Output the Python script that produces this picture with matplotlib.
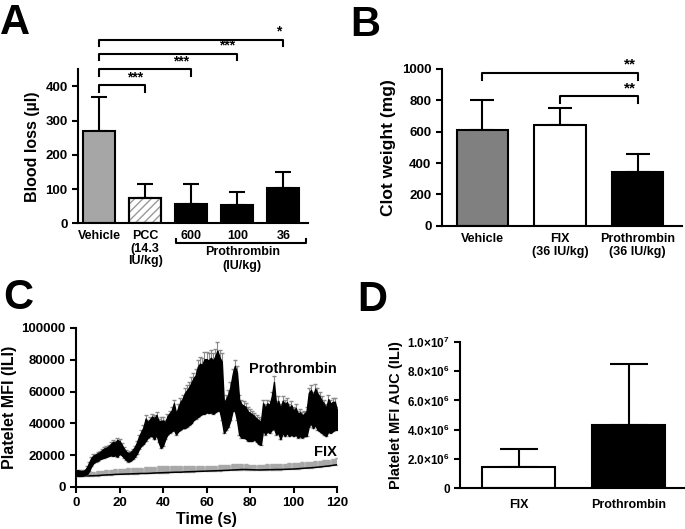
import numpy as np
import matplotlib
matplotlib.use("Agg")
import matplotlib.pyplot as plt

plt.rcParams['font.family'] = ['Liberation Sans', 'DejaVu Sans']
plt.rcParams['font.weight'] = 'bold'
plt.rcParams['axes.labelweight'] = 'bold'
plt.rcParams['mathtext.fontset'] = 'custom'
plt.rcParams['mathtext.rm'] = 'Liberation Sans:bold'
plt.rcParams['mathtext.it'] = 'Liberation Sans:bold'
plt.rcParams['mathtext.bf'] = 'Liberation Sans:bold'

# ---- panel A: blood loss
a_labels = ['Vehicle', 'PCC\n(14.3\nIU/kg)', '600', '100', '36']
a_mean = [271, 73, 57, 53, 103]
a_err = [97, 41, 57, 38, 46]
a_stars = ['***', '***', '***', '*']   # vehicle vs PCC, 600, 100, 36

# ---- panel B: clot weight
b_labels = ['Vehicle', 'FIX\n(36 IU/kg)', 'Prothrombin\n(36 IU/kg)']
b_mean = [611, 643, 344]
b_err = [191, 109, 114]

# ---- panel C: platelet MFI time course
pro_time = list(range(0, 121))
pro_hi = [11000, 11000, 10500, 10500, 11000, 13000, 16000, 19000, 20500, 21000,
          22000, 22500, 24000, 25000, 25500, 26500, 28000, 29500, 29000, 31000,
          30000, 27500, 25000, 23000, 22000, 22500, 24000, 26000, 29000, 33000,
          36000, 39000, 45000, 42000, 44000, 46000, 45000, 47000, 43000, 44000,
          44000, 42000, 46000, 48000, 50000, 55000, 48000, 52000, 56000, 58000,
          62000, 64000, 66000, 69000, 72000, 74000, 80000, 82000, 81000, 85000,
          85000, 84000, 86000, 84000, 87000, 91000, 86000, 84000, 55000, 58000,
          61000, 66000, 74000, 80000, 76000, 58000, 55000, 54000, 53000, 50000,
          49000, 48000, 46500, 45000, 44000, 43000, 55000, 52000, 55000, 54000,
          60000, 70000, 54000, 57000, 52000, 57000, 55000, 56000, 52000, 54000,
          50000, 52000, 48000, 49000, 47000, 48000, 50000, 62000, 64000, 60000,
          65000, 62000, 60000, 57000, 55000, 52000, 58000, 55000, 56000, 56000,
          50000]
pro_lo = [7000, 7000, 7000, 7000, 7500, 8000, 10000, 13000, 15000, 16000,
          16500, 17500, 18000, 18500, 19000, 19500, 20000, 19500, 20000, 19000,
          21000, 20000, 18500, 17000, 16000, 16500, 17500, 19000, 21000, 24000,
          26000, 27000, 29000, 31000, 32000, 32000, 30000, 33000, 28000, 24500,
          26000, 30000, 33000, 34000, 35000, 36000, 33000, 35000, 36000, 37000,
          37000, 38000, 39000, 40000, 42000, 43000, 44000, 45000, 46000, 46000,
          47000, 46500, 47000, 46000, 47000, 48000, 48000, 42000, 34000, 36000,
          38000, 42000, 48000, 48000, 42000, 33000, 31000, 31000, 30500, 29000,
          29000, 29000, 30000, 28500, 27000, 26500, 36000, 33000, 35000, 34000,
          36000, 37000, 33000, 34000, 30000, 34000, 32000, 34000, 32000, 33000,
          32000, 33000, 31000, 32000, 31000, 32000, 32000, 38000, 40000, 37000,
          39000, 36000, 35000, 34000, 33000, 32000, 35000, 34000, 35000, 36000,
          36000]

fix_time = list(range(0, 121, 2))
fix_mean = [7500, 7200, 7000, 7000, 7100, 7200, 7400, 7600, 7700, 7900, 8000,
            8100, 8200, 8300, 8400, 8500, 8500, 8600, 8800, 8900, 9000,
            9100, 9200, 9300, 9300, 9500, 9600, 9700, 9800, 9900, 10000,
            10100, 10200, 10300, 10400, 10500, 10700, 10800, 11000, 11000, 10900,
            10800, 10700, 10800, 10900, 10900, 11000, 11000, 11100, 11200, 11300,
            11500, 11700, 11900, 12100, 12300, 12600, 12900, 13200, 13600, 14000]
fix_err = [1500, 1800, 2000, 2200, 2400, 2600, 2800, 3000, 3100, 3200, 3400,
           3400, 3500, 3500, 3600, 3700, 3800, 3800, 3900, 4000, 4000,
           3900, 3800, 3800, 3700, 3600, 3600, 3500, 3500, 3400, 3400,
           3300, 3300, 3400, 3400, 3500, 3500, 3400, 3300, 3200, 3200,
           3200, 3300, 3300, 3400, 3400, 3500, 3500, 3600, 3600, 3700,
           3700, 3800, 3800, 3900, 3900, 4000, 4000, 4000, 4100, 4200]

# ---- panel D: AUC
d_labels = ['FIX', 'Prothrombin']
d_mean = [1.46e6, 4.32e6]
d_err = [1.19e6, 4.15e6]

LW = 1.5
TICK = 9.5
fig = plt.figure(figsize=(6.85, 5.29), dpi=100)


def style(ax):
    for s in ['top', 'right']:
        ax.spines[s].set_visible(False)
    for s in ['left', 'bottom']:
        ax.spines[s].set_linewidth(LW)
    ax.tick_params(width=LW, length=4, labelsize=TICK)


# ================= A
axA = fig.add_axes([0.114, 0.578, 0.336, 0.291])
style(axA)
xa = np.arange(len(a_mean))
a_colors = ['#a6a6a6', 'white', 'black', 'black', 'black']
axA.bar(xa, a_mean, width=0.7, color=a_colors, edgecolor='black', linewidth=LW, zorder=2)
# gray hatching of the PCC bar
axA.bar(xa[1], a_mean[1], width=0.7, color='none', edgecolor='#9a9a9a', hatch='////',
        linewidth=0, zorder=3)
axA.bar(xa[1], a_mean[1], width=0.7, color='none', edgecolor='black', linewidth=LW, zorder=4)
axA.errorbar(xa, a_mean, yerr=[np.zeros(len(a_err)), a_err], fmt='none', ecolor='black',
             elinewidth=LW, capsize=5.8, capthick=LW, zorder=1)
axA.set_xlim(-0.457, 4.54)
axA.set_ylim(0, 450)
axA.set_yticks([0, 100, 200, 300, 400])
axA.set_xticks(xa)
axA.set_xticklabels(a_labels, linespacing=1.05, fontsize=9)
axA.tick_params(axis='x', length=0, pad=5)
axA.set_ylabel('Blood loss (\u00b5l)', fontsize=11.5, labelpad=4)

br_y = [403, 450, 496, 537]
for i, (y, st) in enumerate(zip(br_y, a_stars)):
    x2 = xa[i + 1]
    axA.plot([0, 0, x2, x2], [y - 20, y, y, y - 20], color='black', lw=LW, clip_on=False)
    axA.text(x2 - 0.05, y + 2, st, ha='right', va='bottom', fontsize=10, clip_on=False)
axA.plot([1.67, 1.67, 4.5, 4.5], [-46, -57, -57, -46], color='black', lw=LW, clip_on=False)
axA.text(3.11, -68, 'Prothrombin', ha='center', va='top', fontsize=9)
axA.text(3.11, -108, '(IU/kg)', ha='center', va='top', fontsize=9)

# ================= B
axB = fig.add_axes([0.645, 0.573, 0.350, 0.297])
style(axB)
xb = np.arange(len(b_mean))
axB.bar(xb, b_mean, width=0.66, color=['#808080', 'white', 'black'], edgecolor='black',
        linewidth=LW, zorder=2)
axB.errorbar(xb, b_mean, yerr=[np.zeros(len(b_err)), b_err], fmt='none', ecolor='black',
             elinewidth=LW, capsize=8.3, capthick=LW, zorder=1)
axB.set_xlim(-0.52, 2.566)
axB.set_ylim(0, 1000)
axB.set_yticks([0, 200, 400, 600, 800, 1000])
axB.set_xticks(xb)
axB.set_xticklabels(b_labels, linespacing=1.1, fontsize=9)
axB.tick_params(axis='x', length=0, pad=5)
axB.set_ylabel('Clot weight (mg)', fontsize=12.5, labelpad=4)
for x1, y in [(0, 975), (1, 828)]:
    axB.plot([x1, x1, 2, 2], [y - 45, y, y, y - 45], color='black', lw=LW, clip_on=False)
    axB.text(1.98, y + 5, '**', ha='right', va='bottom', fontsize=11, clip_on=False)

# ================= C
axC = fig.add_axes([0.111, 0.0794, 0.381, 0.3006])
style(axC)
pt = np.array(pro_time)
hi = np.array(pro_hi)
lo = np.array(pro_lo)
mid = (hi + lo) / 2
fm = np.array(fix_mean)
fe = np.array(fix_err)
axC.errorbar(fix_time, fm, yerr=[np.zeros(len(fe)), fe], fmt='none', ecolor='#a8a8a8',
             elinewidth=3.4, capsize=1.2, zorder=2)
axC.plot(fix_time, fm, color='black', lw=1.1, zorder=3)
axC.errorbar(pt, mid, yerr=(hi - lo) / 2, fmt='none', ecolor='#8a8a8a', elinewidth=0.8,
             capsize=1.2, zorder=4)
axC.fill_between(pt, lo, lo + 0.88 * (hi - lo), color='black', lw=1.0, zorder=5)
axC.set_xlim(0, 120)
axC.set_ylim(0, 100000)
axC.set_xticks([0, 20, 40, 60, 80, 100, 120])
axC.set_yticks([0, 20000, 40000, 60000, 80000, 100000])
axC.set_xlabel('Time (s)', fontsize=11.5, labelpad=2)
axC.set_ylabel('Platelet MFI (ILI)', fontsize=11.5, labelpad=3)
axC.text(120, 74500, 'Prothrombin', ha='right', va='center', fontsize=10.5)
axC.text(120, 22000, 'FIX', ha='right', va='center', fontsize=10.5)

# ================= D
axD = fig.add_axes([0.672, 0.0775, 0.328, 0.276])
style(axD)
xd = np.arange(len(d_mean))
axD.bar(xd, d_mean, width=0.66, color=['white', 'black'], edgecolor='black', linewidth=LW,
        zorder=2)
axD.errorbar(xd, d_mean, yerr=[np.zeros(len(d_err)), d_err], fmt='none', ecolor='black',
             elinewidth=LW, capsize=13.5, capthick=LW, zorder=1)
axD.set_xlim(-0.53, 1.51)
axD.set_ylim(0, 1e7)
yt = [0, 2e6, 4e6, 6e6, 8e6, 1e7]
axD.set_yticks(yt)
axD.set_yticklabels(['0', r'$2.0{\times}10^{6}$', r'$4.0{\times}10^{6}$',
                     r'$6.0{\times}10^{6}$', r'$8.0{\times}10^{6}$', r'$1.0{\times}10^{7}$'],
                    fontsize=8.5)
axD.set_xticks(xd)
axD.set_xticklabels(d_labels, fontsize=9)
axD.tick_params(axis='x', length=0, pad=8)
axD.set_ylabel('Platelet MFI AUC (ILI)', fontsize=10.5, labelpad=3)

# panel letters
for lab, x, y in [('A', 0.0, 0.995), ('B', 0.512, 0.99), ('C', 0.005, 0.475), ('D', 0.522, 0.47)]:
    fig.text(x, y, lab, fontsize=30, fontweight='bold', ha='left', va='top')

fig.savefig('out.png', dpi=100)
